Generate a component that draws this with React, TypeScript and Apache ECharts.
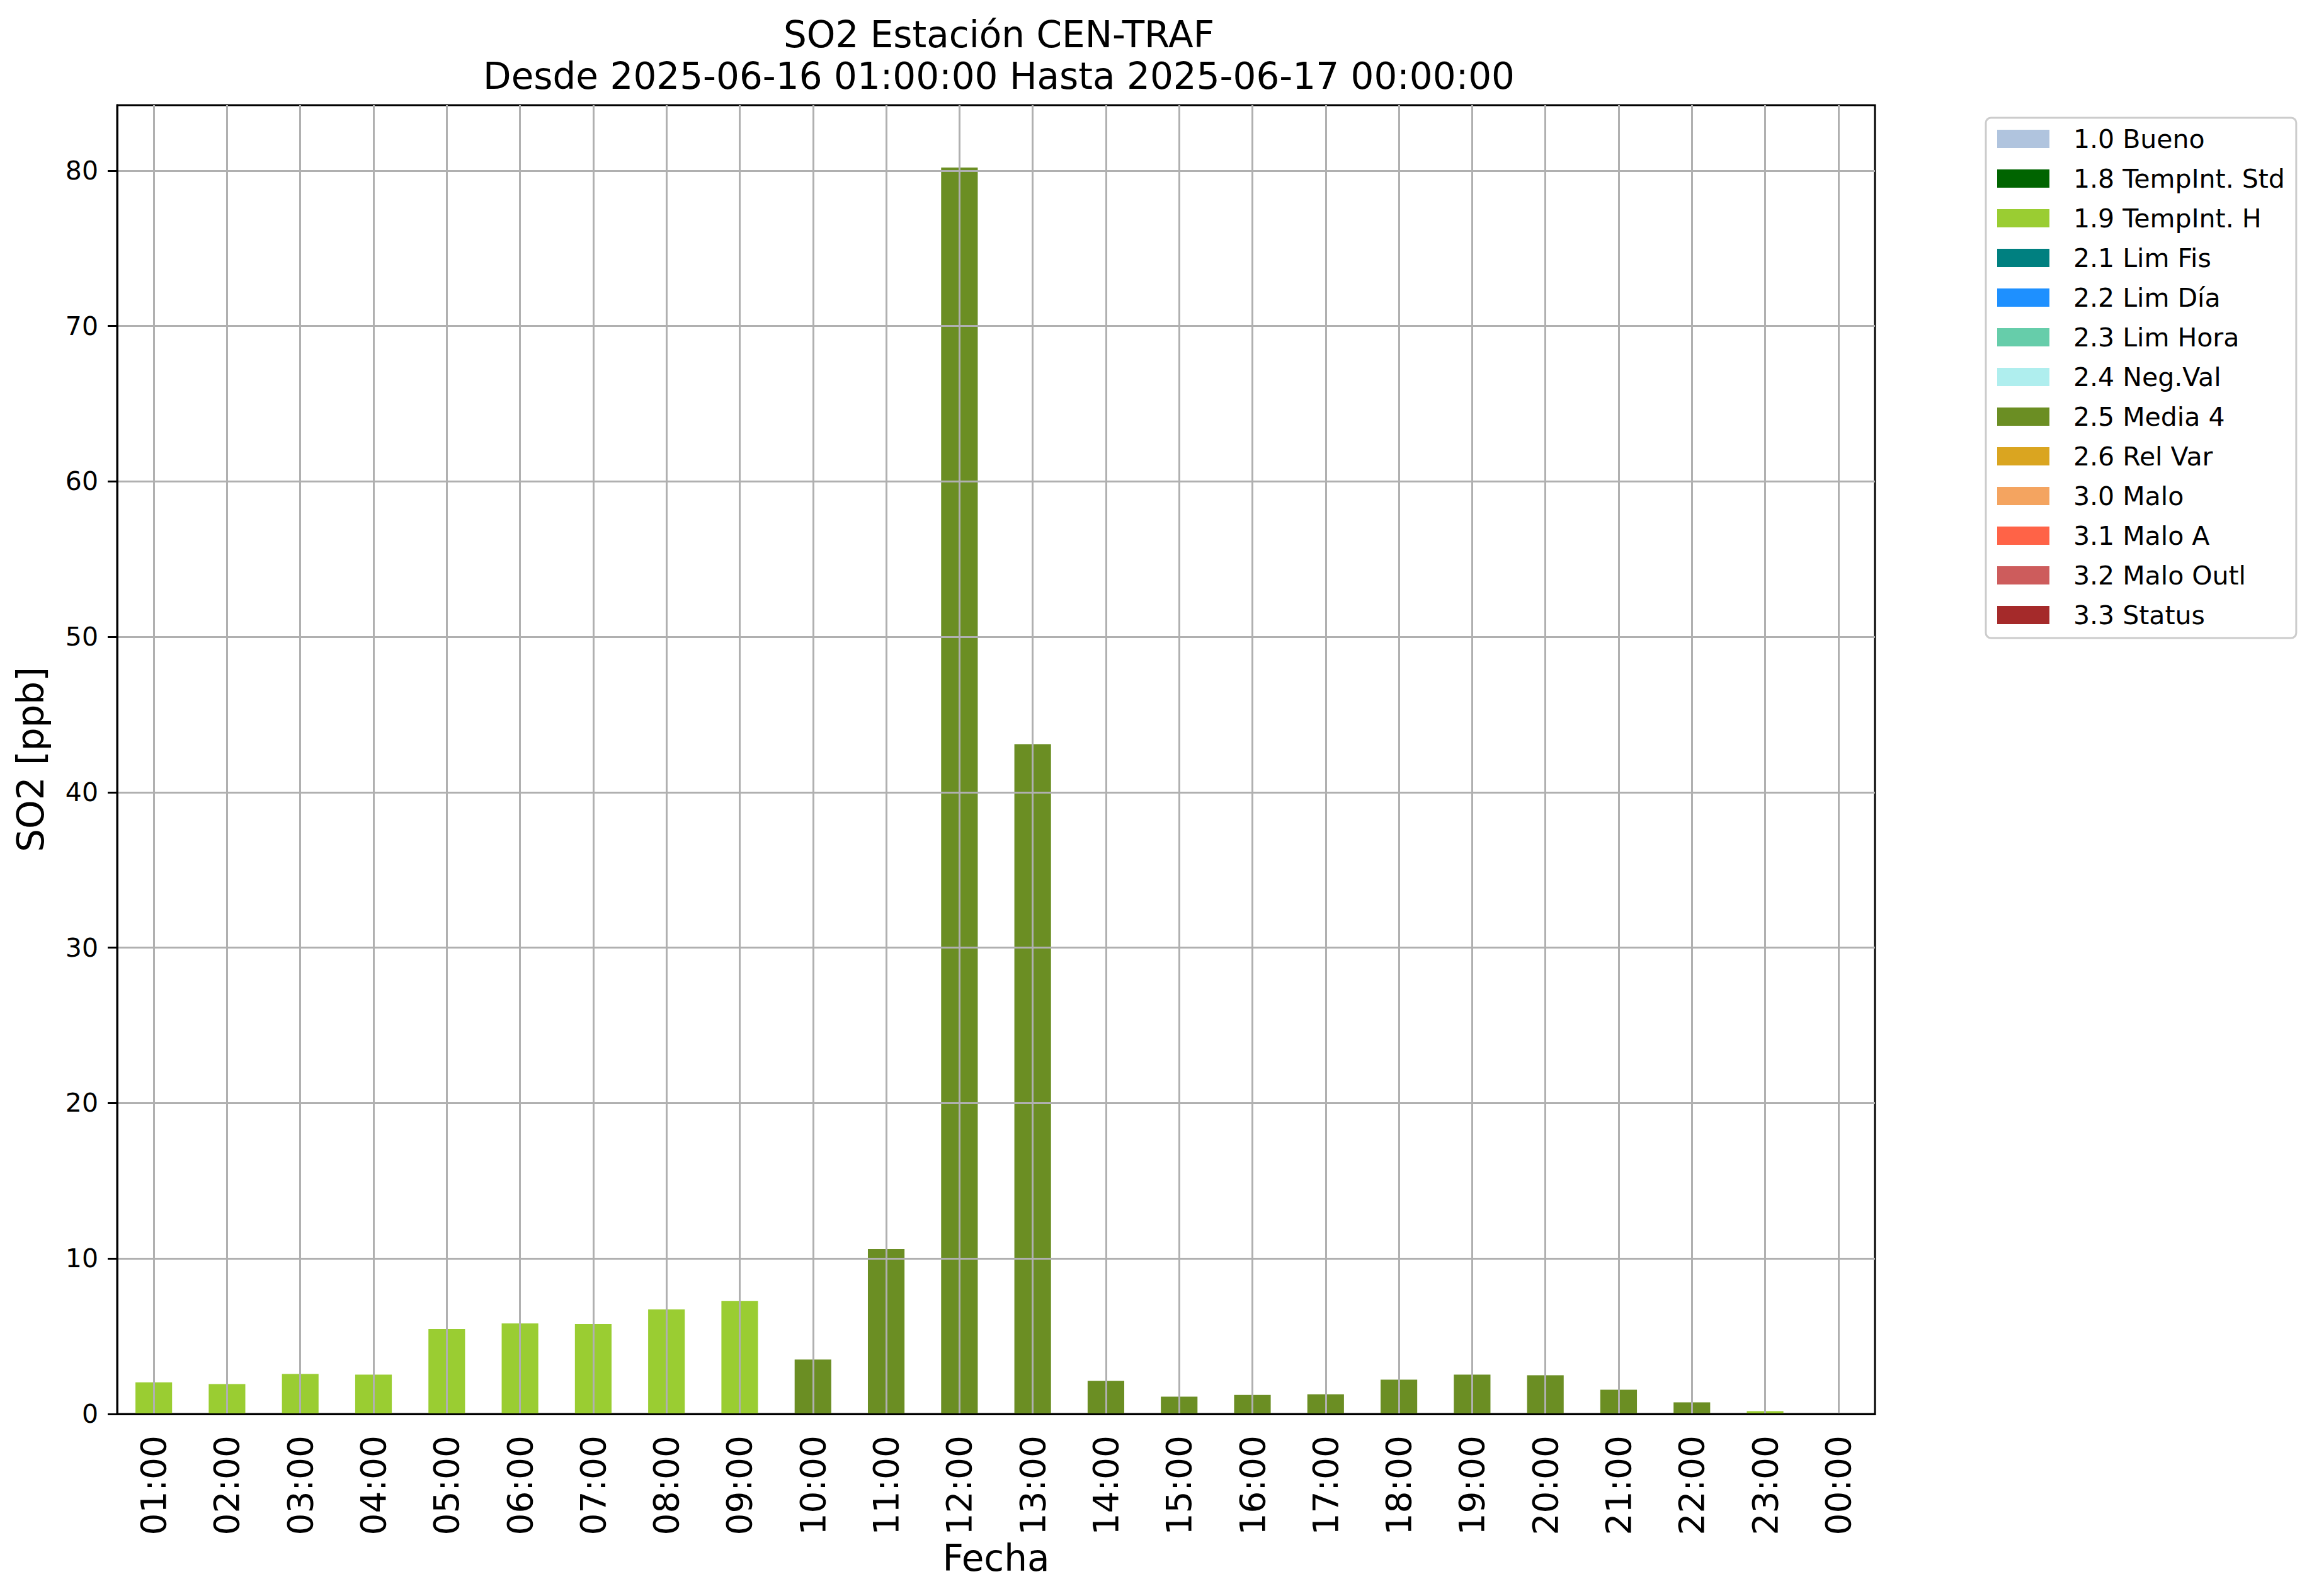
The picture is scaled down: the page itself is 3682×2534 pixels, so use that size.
import React, { useEffect, useRef } from "react";
import * as echarts from "echarts";

const categories = [
  "01:00", "02:00", "03:00", "04:00", "05:00", "06:00", "07:00", "08:00",
  "09:00", "10:00", "11:00", "12:00", "13:00", "14:00", "15:00", "16:00",
  "17:00", "18:00", "19:00", "20:00", "21:00", "22:00", "23:00", "00:00",
];

const values: (number | null)[] = [
  2.04, 1.92, 2.57, 2.53, 5.47, 5.83, 5.79, 6.73, 7.26, 3.51, 10.62, 80.2,
  43.1, 2.13, 1.11, 1.23, 1.27, 2.21, 2.53, 2.49, 1.56, 0.75, 0.18, null,
];

const H = "1.9 TempInt. H";
const M = "2.5 Media 4";
const flags: (string | null)[] = [
  H, H, H, H, H, H, H, H, H, M, M, M, M, M, M, M, M, M, M, M, M, M, H, null,
];

const flagNames = [
  "1.0 Bueno", "1.8 TempInt. Std", "1.9 TempInt. H", "2.1 Lim Fis",
  "2.2 Lim Día", "2.3 Lim Hora", "2.4 Neg.Val", "2.5 Media 4",
  "2.6 Rel Var", "3.0 Malo", "3.1 Malo A", "3.2 Malo Outl", "3.3 Status",
];

const flagColors = [
  "#B0C4DE", "#006400", "#9ACD32", "#008080", "#1E90FF", "#66CDAA",
  "#AFEEEE", "#6B8E23", "#DAA520", "#F4A460", "#FF6347", "#CD5C5C", "#A52A2A",
];

const yTicks = [0, 10, 20, 30, 40, 50, 60, 70, 80];
const yMax = 84.21;

const FONT = "DejaVu Sans";

export default function App() {
  const ref = useRef<HTMLDivElement>(null);
  useEffect(() => {
    if (!ref.current) return;
    const chart = echarts.init(ref.current, undefined, { renderer: "svg" });
    const series = flagNames.map((name, i) => ({
      name,
      type: "bar",
      stack: "total",
      barWidth: "50%",
      itemStyle: { color: flagColors[i] },
      data: values.map((v, j) => (flags[j] === name ? v : null)),
    }));
    chart.setOption({
      animation: false,
      backgroundColor: "#ffffff",
      title: {
        text: "SO2 Estación CEN-TRAF\nDesde 2025-06-16 01:00:00 Hasta 2025-06-17 00:00:00",
        left: 1581,
        textAlign: "center",
        top: 17,
        textStyle: {
          fontFamily: FONT,
          fontSize: 58,
          fontWeight: "normal",
          color: "#000",
          lineHeight: 66,
        },
      },
      legend: {
        orient: "vertical",
        left: 3153,
        top: 187,
        data: flagNames,
        icon: "rect",
        itemWidth: 83,
        itemHeight: 29,
        itemGap: 22,
        padding: [13, 18, 16, 18],
        borderColor: "#cccccc",
        borderWidth: 3,
        borderRadius: 8,
        backgroundColor: "#ffffff",
        selectedMode: false,
        textStyle: {
          fontFamily: FONT,
          fontSize: 41,
          color: "#000",
          lineHeight: 40,
          padding: [0, 0, 0, 33],
        },
      },
      grid: {
        left: 186,
        top: 167,
        right: 705,
        bottom: 289,
        show: true,
        borderColor: "#000",
        borderWidth: 3,
        backgroundColor: "transparent",
      },
      xAxis: {
        type: "category",
        data: categories,
        z: 3,
        name: "Fecha",
        nameLocation: "middle",
        nameGap: 192,
        nameTextStyle: { fontFamily: FONT, fontSize: 58, color: "#000" },
        axisLine: { lineStyle: { color: "#000", width: 3 } },
        axisTick: {
          alignWithLabel: true,
          interval: 0,
          length: 15,
          lineStyle: { color: "#000", width: 3 },
        },
        axisLabel: {
          interval: 0,
          rotate: 90,
          margin: 34,
          fontFamily: FONT,
          fontSize: 55,
          color: "#000",
        },
        splitLine: {
          show: true,
          alignWithLabel: true,
          interval: 0,
          lineStyle: { color: "#b0b0b0", width: 3 },
        },
      },
      yAxis: {
        type: "value",
        min: 0,
        max: yMax,
        interval: 10,
        z: 3,
        name: "SO2 [ppb]",
        nameLocation: "middle",
        nameGap: 108,
        nameTextStyle: { fontFamily: FONT, fontSize: 58, color: "#000" },
        axisLine: { show: true, lineStyle: { color: "#000", width: 3 } },
        axisTick: {
          show: true,
          length: 15,
          customValues: yTicks,
          lineStyle: { color: "#000", width: 3 },
        },
        axisLabel: {
          customValues: yTicks,
          margin: 30,
          fontFamily: FONT,
          fontSize: 41,
          color: "#000",
        },
        splitLine: {
          show: true,
          lineStyle: { color: "#b0b0b0", width: 3 },
        },
      },
      series,
    });
    return () => chart.dispose();
  }, []);
  return (
    <div
      ref={ref}
      style={{ position: "fixed", left: 0, top: 0, width: 3682, height: 2534 }}
    />
  );
}
